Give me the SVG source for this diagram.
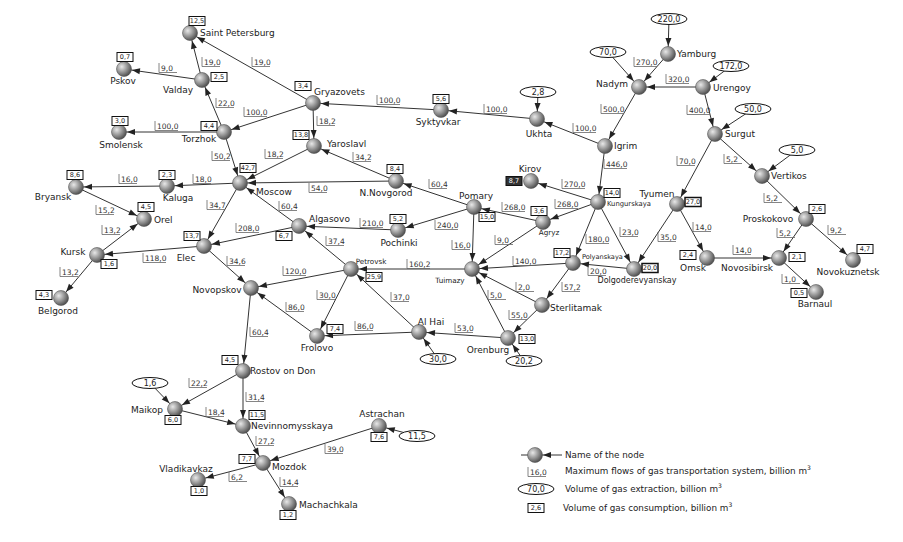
<svg xmlns="http://www.w3.org/2000/svg" xmlns:xlink="http://www.w3.org/1999/xlink" width="903" height="542" viewBox="0 0 903 542">
<style>
text{font-family:"DejaVu Sans","Liberation Sans",sans-serif;fill:#222}
.n{font-size:9px}
.s{font-size:7.2px}
.m{text-anchor:middle}
.e{stroke:#333;stroke-width:1;fill:none}
.fl text{font-size:7.5px;fill:#333}
.bx rect{fill:#fff;stroke:#111;stroke-width:1}
.bx text{font-size:6.5px;text-anchor:middle}
.ex ellipse{fill:#fff;stroke:#111;stroke-width:1}
.ex text{font-size:8px;text-anchor:middle}
.nd{fill:url(#g);stroke:#555;stroke-width:0.6}
.lg{font-size:8.8px}
</style>
<defs>
<radialGradient id="g" cx="35%" cy="35%" r="70%">
<stop offset="0" stop-color="#e8e8e8"/>
<stop offset="0.6" stop-color="#8a8a8a"/>
<stop offset="1" stop-color="#4a4a4a"/>
</radialGradient>
<marker id="a" markerUnits="userSpaceOnUse" markerWidth="9" markerHeight="6" refX="16" refY="3" orient="auto" overflow="visible">
<path d="M0,0L8,3L0,6z" fill="#222"/>
</marker>
<path id="u4" d="M0,-5V4.5H18" fill="none" stroke="#666" stroke-width="0.8"/>
<path id="u5" d="M0,-5V4.5H23" fill="none" stroke="#666" stroke-width="0.8"/>
</defs>
<rect width="903" height="542" fill="#fff"/>

<g id="connectors" class="e" marker-end="url(#a)">
<line x1="202" y1="80" x2="190" y2="33"/>
<line x1="313" y1="103" x2="190" y2="33"/>
<line x1="202" y1="80" x2="124" y2="69"/>
<line x1="224" y1="132" x2="202" y2="80"/>
<line x1="313" y1="103" x2="224" y2="132"/>
<line x1="224" y1="132" x2="119" y2="132"/>
<line x1="224" y1="132" x2="240" y2="183"/>
<line x1="313" y1="103" x2="314" y2="146"/>
<line x1="314" y1="146" x2="240" y2="183"/>
<line x1="396" y1="181" x2="314" y2="146"/>
<line x1="396" y1="181" x2="240" y2="183"/>
<line x1="441" y1="110" x2="313" y2="103"/>
<line x1="537" y1="119" x2="441" y2="110"/>
<line x1="605" y1="146" x2="537" y2="119"/>
<line x1="240" y1="183" x2="167" y2="186"/>
<line x1="167" y1="186" x2="76" y2="187"/>
<line x1="76" y1="187" x2="144" y2="219"/>
<line x1="97" y1="255" x2="144" y2="219"/>
<line x1="97" y1="255" x2="61" y2="298"/>
<line x1="204" y1="246" x2="97" y2="255"/>
<line x1="240" y1="183" x2="204" y2="246"/>
<line x1="299" y1="226" x2="240" y2="183"/>
<line x1="299" y1="226" x2="204" y2="246"/>
<line x1="398" y1="230" x2="299" y2="226"/>
<line x1="351" y1="269" x2="299" y2="226"/>
<line x1="204" y1="246" x2="251" y2="288"/>
<line x1="351" y1="269" x2="251" y2="288"/>
<line x1="317" y1="336" x2="251" y2="288"/>
<line x1="251" y1="288" x2="243" y2="371"/>
<line x1="351" y1="269" x2="317" y2="336"/>
<line x1="419" y1="332" x2="317" y2="336"/>
<line x1="419" y1="332" x2="351" y2="269"/>
<line x1="472" y1="269" x2="351" y2="269"/>
<line x1="474" y1="207" x2="396" y2="181"/>
<line x1="474" y1="207" x2="398" y2="230"/>
<line x1="474" y1="207" x2="472" y2="269"/>
<line x1="543" y1="222" x2="474" y2="207"/>
<line x1="543" y1="222" x2="472" y2="269"/>
<line x1="598" y1="202" x2="543" y2="222"/>
<line x1="598" y1="202" x2="531" y2="181"/>
<line x1="605" y1="146" x2="598" y2="202"/>
<line x1="598" y1="202" x2="573" y2="263"/>
<line x1="598" y1="202" x2="634" y2="269"/>
<line x1="573" y1="263" x2="472" y2="269"/>
<line x1="634" y1="269" x2="573" y2="263"/>
<line x1="573" y1="263" x2="542" y2="305"/>
<line x1="542" y1="305" x2="472" y2="269"/>
<line x1="542" y1="305" x2="508" y2="338"/>
<line x1="508" y1="338" x2="472" y2="269"/>
<line x1="508" y1="338" x2="419" y2="332"/>
<line x1="677" y1="204" x2="634" y2="269"/>
<line x1="677" y1="204" x2="707" y2="258"/>
<line x1="707" y1="258" x2="779" y2="258"/>
<line x1="715" y1="134" x2="677" y2="204"/>
<line x1="715" y1="134" x2="762" y2="176"/>
<line x1="762" y1="176" x2="806" y2="219"/>
<line x1="806" y1="219" x2="779" y2="258"/>
<line x1="806" y1="219" x2="853" y2="260"/>
<line x1="779" y1="258" x2="816" y2="292"/>
<line x1="703" y1="87" x2="715" y2="134"/>
<line x1="703" y1="87" x2="639" y2="87"/>
<line x1="668" y1="54" x2="639" y2="87"/>
<line x1="639" y1="87" x2="605" y2="146"/>
<line x1="243" y1="371" x2="175" y2="409"/>
<line x1="243" y1="371" x2="243" y2="426"/>
<line x1="175" y1="409" x2="243" y2="426"/>
<line x1="243" y1="426" x2="263" y2="463"/>
<line x1="379" y1="426" x2="263" y2="463"/>
<line x1="263" y1="463" x2="198" y2="480"/>
<line x1="263" y1="463" x2="289" y2="504"/>
<line x1="669" y1="19" x2="668" y2="54"/>
<line x1="608" y1="52" x2="639" y2="87"/>
<line x1="731" y1="66" x2="703" y2="87"/>
<line x1="753" y1="109" x2="715" y2="134"/>
<line x1="797" y1="150" x2="762" y2="176"/>
<line x1="538" y1="92" x2="537" y2="119"/>
<line x1="438" y1="359" x2="419" y2="332"/>
<line x1="524" y1="361" x2="508" y2="338"/>
<line x1="150" y1="383" x2="175" y2="409"/>
<line x1="417" y1="436" x2="379" y2="426"/>
<line x1="562" y1="455" x2="535" y2="455"/>
<line x1="521" y1="455" x2="528" y2="455" marker-end="none"/>
</g>

<g id="flows" class="fl">
<g transform="translate(202,62)"><use xlink:href="#u4"/><text x="2" y="2.5">19,0</text></g>
<g transform="translate(252,62)"><use xlink:href="#u4"/><text x="2" y="2.5">19,0</text></g>
<g transform="translate(159,68)"><use xlink:href="#u4"/><text x="2" y="2.5">9,0</text></g>
<g transform="translate(216,103)"><use xlink:href="#u4"/><text x="2" y="2.5">22,0</text></g>
<g transform="translate(244,112)"><use xlink:href="#u5"/><text x="2" y="2.5">100,0</text></g>
<g transform="translate(155,126)"><use xlink:href="#u5"/><text x="2" y="2.5">100,0</text></g>
<g transform="translate(212,156)"><use xlink:href="#u4"/><text x="2" y="2.5">50,2</text></g>
<g transform="translate(265,154)"><use xlink:href="#u4"/><text x="2" y="2.5">18,2</text></g>
<g transform="translate(119,179)"><use xlink:href="#u4"/><text x="2" y="2.5">16,0</text></g>
<g transform="translate(193,179)"><use xlink:href="#u4"/><text x="2" y="2.5">18,0</text></g>
<g transform="translate(377,100)"><use xlink:href="#u5"/><text x="2" y="2.5">100,0</text></g>
<g transform="translate(484,109)"><use xlink:href="#u5"/><text x="2" y="2.5">100,0</text></g>
<g transform="translate(573,128)"><use xlink:href="#u5"/><text x="2" y="2.5">100,0</text></g>
<g transform="translate(317,121)"><use xlink:href="#u4"/><text x="2" y="2.5">18,2</text></g>
<g transform="translate(353,157)"><use xlink:href="#u4"/><text x="2" y="2.5">34,2</text></g>
<g transform="translate(429,184)"><use xlink:href="#u4"/><text x="2" y="2.5">60,4</text></g>
<g transform="translate(562,184)"><use xlink:href="#u5"/><text x="2" y="2.5">270,0</text></g>
<g transform="translate(309,188)"><use xlink:href="#u4"/><text x="2" y="2.5">54,0</text></g>
<g transform="translate(634,62)"><use xlink:href="#u5"/><text x="2" y="2.5">270,0</text></g>
<g transform="translate(666,79)"><use xlink:href="#u5"/><text x="2" y="2.5">320,0</text></g>
<g transform="translate(601,109)"><use xlink:href="#u5"/><text x="2" y="2.5">500,0</text></g>
<g transform="translate(687,110)"><use xlink:href="#u5"/><text x="2" y="2.5">400,0</text></g>
<g transform="translate(604,164)"><use xlink:href="#u5"/><text x="2" y="2.5">446,0</text></g>
<g transform="translate(677,161)"><use xlink:href="#u4"/><text x="2" y="2.5">70,0</text></g>
<g transform="translate(724,159)"><use xlink:href="#u4"/><text x="2" y="2.5">5,2</text></g>
<g transform="translate(96,210)"><use xlink:href="#u4"/><text x="2" y="2.5">15,2</text></g>
<g transform="translate(102,230)"><use xlink:href="#u4"/><text x="2" y="2.5">13,2</text></g>
<g transform="translate(60,272)"><use xlink:href="#u4"/><text x="2" y="2.5">13,2</text></g>
<g transform="translate(143,258)"><use xlink:href="#u5"/><text x="2" y="2.5">118,0</text></g>
<g transform="translate(207,205)"><use xlink:href="#u4"/><text x="2" y="2.5">34,7</text></g>
<g transform="translate(236,228)"><use xlink:href="#u5"/><text x="2" y="2.5">208,0</text></g>
<g transform="translate(279,206)"><use xlink:href="#u4"/><text x="2" y="2.5">60,4</text></g>
<g transform="translate(227,261)"><use xlink:href="#u4"/><text x="2" y="2.5">34,6</text></g>
<g transform="translate(283,271)"><use xlink:href="#u5"/><text x="2" y="2.5">120,0</text></g>
<g transform="translate(286,307)"><use xlink:href="#u4"/><text x="2" y="2.5">86,0</text></g>
<g transform="translate(250,332)"><use xlink:href="#u4"/><text x="2" y="2.5">60,4</text></g>
<g transform="translate(360,223)"><use xlink:href="#u5"/><text x="2" y="2.5">210,0</text></g>
<g transform="translate(326,241)"><use xlink:href="#u4"/><text x="2" y="2.5">37,4</text></g>
<g transform="translate(435,225)"><use xlink:href="#u5"/><text x="2" y="2.5">240,0</text></g>
<g transform="translate(452,245)"><use xlink:href="#u4"/><text x="2" y="2.5">16,0</text></g>
<g transform="translate(502,207)"><use xlink:href="#u5"/><text x="2" y="2.5">268,0</text></g>
<g transform="translate(495,240)"><use xlink:href="#u4"/><text x="2" y="2.5">9,0</text></g>
<g transform="translate(555,204)"><use xlink:href="#u5"/><text x="2" y="2.5">268,0</text></g>
<g transform="translate(407,264)"><use xlink:href="#u5"/><text x="2" y="2.5">160,2</text></g>
<g transform="translate(513,261)"><use xlink:href="#u5"/><text x="2" y="2.5">140,0</text></g>
<g transform="translate(317,295)"><use xlink:href="#u4"/><text x="2" y="2.5">30,0</text></g>
<g transform="translate(391,297)"><use xlink:href="#u4"/><text x="2" y="2.5">37,0</text></g>
<g transform="translate(516,287)"><use xlink:href="#u4"/><text x="2" y="2.5">2,0</text></g>
<g transform="translate(562,287)"><use xlink:href="#u4"/><text x="2" y="2.5">57,2</text></g>
<g transform="translate(488,295)"><use xlink:href="#u4"/><text x="2" y="2.5">5,0</text></g>
<g transform="translate(509,315)"><use xlink:href="#u4"/><text x="2" y="2.5">55,0</text></g>
<g transform="translate(355,326)"><use xlink:href="#u4"/><text x="2" y="2.5">86,0</text></g>
<g transform="translate(455,328)"><use xlink:href="#u4"/><text x="2" y="2.5">53,0</text></g>
<g transform="translate(586,239)"><use xlink:href="#u5"/><text x="2" y="2.5">180,0</text></g>
<g transform="translate(620,232)"><use xlink:href="#u4"/><text x="2" y="2.5">23,0</text></g>
<g transform="translate(588,271)"><use xlink:href="#u4"/><text x="2" y="2.5">20,0</text></g>
<g transform="translate(658,237)"><use xlink:href="#u4"/><text x="2" y="2.5">35,0</text></g>
<g transform="translate(693,227)"><use xlink:href="#u4"/><text x="2" y="2.5">14,0</text></g>
<g transform="translate(733,250)"><use xlink:href="#u4"/><text x="2" y="2.5">14,0</text></g>
<g transform="translate(764,198)"><use xlink:href="#u4"/><text x="2" y="2.5">5,2</text></g>
<g transform="translate(777,233)"><use xlink:href="#u4"/><text x="2" y="2.5">5,2</text></g>
<g transform="translate(828,230)"><use xlink:href="#u4"/><text x="2" y="2.5">9,2</text></g>
<g transform="translate(782,279)"><use xlink:href="#u4"/><text x="2" y="2.5">1,0</text></g>
<g transform="translate(189,383)"><use xlink:href="#u4"/><text x="2" y="2.5">22,2</text></g>
<g transform="translate(246,397)"><use xlink:href="#u4"/><text x="2" y="2.5">31,4</text></g>
<g transform="translate(206,412)"><use xlink:href="#u4"/><text x="2" y="2.5">18,4</text></g>
<g transform="translate(256,441)"><use xlink:href="#u4"/><text x="2" y="2.5">27,2</text></g>
<g transform="translate(325,449)"><use xlink:href="#u4"/><text x="2" y="2.5">39,0</text></g>
<g transform="translate(229,477)"><use xlink:href="#u4"/><text x="2" y="2.5">6,2</text></g>
<g transform="translate(280,482)"><use xlink:href="#u4"/><text x="2" y="2.5">14,4</text></g>
</g>

<g id="saint-petersburg"><circle class="nd" cx="190" cy="33" r="7.5"/><text class="n" x="200" y="36">Saint Petersburg</text><g class="bx" transform="translate(197,21)"><rect x="-8" y="-4.5" width="16" height="9"/><text y="2.3">12,5</text></g></g>
<g id="pskov"><circle class="nd" cx="124" cy="69" r="7.5"/><text class="n m" x="123" y="84">Pskov</text><g class="bx" transform="translate(125,57)"><rect x="-8" y="-4.5" width="16" height="9"/><text y="2.3">0,7</text></g></g>
<g id="valday"><circle class="nd" cx="202" cy="80" r="7.5"/><text class="n m" x="178" y="93">Valday</text><g class="bx" transform="translate(219,77)"><rect x="-8" y="-4.5" width="16" height="9"/><text y="2.3">2,5</text></g></g>
<g id="gryazovets"><circle class="nd" cx="313" cy="103" r="7.5"/><text class="n" x="314" y="95">Gryazovets</text><g class="bx" transform="translate(303,86)"><rect x="-8" y="-4.5" width="16" height="9"/><text y="2.3">3,4</text></g></g>
<g id="torzhok"><circle class="nd" cx="224" cy="132" r="7.5"/><text class="n m" x="199" y="142">Torzhok</text><g class="bx" transform="translate(209,126)"><rect x="-8" y="-4.5" width="16" height="9"/><text y="2.3">4,4</text></g></g>
<g id="smolensk"><circle class="nd" cx="119" cy="132" r="7.5"/><text class="n m" x="121" y="148">Smolensk</text><g class="bx" transform="translate(120,121)"><rect x="-8" y="-4.5" width="16" height="9"/><text y="2.3">3,0</text></g></g>
<g id="yaroslavl"><circle class="nd" cx="314" cy="146" r="7.5"/><text class="n" x="327" y="147">Yaroslavl</text><g class="bx" transform="translate(301,135)"><rect x="-8" y="-4.5" width="16" height="9"/><text y="2.3">13,8</text></g></g>
<g id="moscow"><circle class="nd" cx="240" cy="183" r="7.5"/><text class="n" x="256" y="195">Moscow</text><g class="bx" transform="translate(248,168)"><rect x="-8" y="-4.5" width="16" height="9"/><text y="2.3">42,7</text></g></g>
<g id="kaluga"><circle class="nd" cx="167" cy="186" r="7.5"/><text class="n m" x="178" y="201">Kaluga</text><g class="bx" transform="translate(167,175)"><rect x="-8" y="-4.5" width="16" height="9"/><text y="2.3">2,3</text></g></g>
<g id="bryansk"><circle class="nd" cx="76" cy="187" r="7.5"/><text class="n m" x="53" y="200">Bryansk</text><g class="bx" transform="translate(75,175)"><rect x="-8" y="-4.5" width="16" height="9"/><text y="2.3">8,6</text></g></g>
<g id="orel"><circle class="nd" cx="144" cy="219" r="7.5"/><text class="n" x="154" y="223">Orel</text><g class="bx" transform="translate(146,207)"><rect x="-8" y="-4.5" width="16" height="9"/><text y="2.3">4,5</text></g></g>
<g id="kursk"><circle class="nd" cx="97" cy="255" r="7.5"/><text class="n m" x="73" y="255">Kursk</text><g class="bx" transform="translate(109,264)"><rect x="-8" y="-4.5" width="16" height="9"/><text y="2.3">1,6</text></g></g>
<g id="belgorod"><circle class="nd" cx="61" cy="298" r="7.5"/><text class="n m" x="58" y="314">Belgorod</text><g class="bx" transform="translate(44,295)"><rect x="-8" y="-4.5" width="16" height="9"/><text y="2.3">4,3</text></g></g>
<g id="elec"><circle class="nd" cx="204" cy="246" r="7.5"/><text class="n m" x="186" y="261">Elec</text><g class="bx" transform="translate(192,236)"><rect x="-8" y="-4.5" width="16" height="9"/><text y="2.3">13,7</text></g></g>
<g id="algasovo"><circle class="nd" cx="299" cy="226" r="7.5"/><text class="n" x="309" y="222">Algasovo</text><g class="bx" transform="translate(284,236)"><rect x="-8" y="-4.5" width="16" height="9"/><text y="2.3">6,7</text></g></g>
<g id="novopskov"><circle class="nd" cx="251" cy="288" r="7.5"/><text class="n m" x="217" y="293">Novopskov</text></g>
<g id="frolovo"><circle class="nd" cx="317" cy="336" r="7.5"/><text class="n m" x="317" y="351">Frolovo</text><g class="bx" transform="translate(335,329)"><rect x="-8" y="-4.5" width="16" height="9"/><text y="2.3">7,4</text></g></g>
<g id="petrovsk"><circle class="nd" cx="351" cy="269" r="7.5"/><text class="s m" x="371" y="264">Petrovsk</text><g class="bx" transform="translate(374,277)"><rect x="-8" y="-4.5" width="16" height="9"/><text y="2.3">25,9</text></g></g>
<g id="pochinki"><circle class="nd" cx="398" cy="230" r="7.5"/><text class="n m" x="399" y="246">Pochinki</text><g class="bx" transform="translate(398,219)"><rect x="-8" y="-4.5" width="16" height="9"/><text y="2.3">5,2</text></g></g>
<g id="n-novgorod"><circle class="nd" cx="396" cy="181" r="7.5"/><text class="n m" x="386" y="196">N.Novgorod</text><g class="bx" transform="translate(395,169)"><rect x="-8" y="-4.5" width="16" height="9"/><text y="2.3">8,4</text></g></g>
<g id="pomary"><circle class="nd" cx="474" cy="207" r="7.5"/><text class="n m" x="476" y="199">Pomary</text><g class="bx" transform="translate(487,217)"><rect x="-8" y="-4.5" width="16" height="9"/><text y="2.3">15,0</text></g></g>
<g id="agryz"><circle class="nd" cx="543" cy="222" r="7.5"/><text class="s m" x="549" y="235">Agryz</text><g class="bx" transform="translate(539,211)"><rect x="-8" y="-4.5" width="16" height="9"/><text y="2.3">3,6</text></g></g>
<g id="tuimazy"><circle class="nd" cx="472" cy="269" r="7.5"/><text class="s m" x="450" y="283">Tuimazy</text></g>
<g id="kungurskaya"><circle class="nd" cx="598" cy="202" r="7.5"/><text class="s" x="607" y="206" style="font-size:6.8px">Kungurskaya</text><g class="bx" transform="translate(612,193)"><rect x="-8" y="-4.5" width="16" height="9"/><text y="2.3">14,0</text></g></g>
<g id="kirov"><circle class="nd" cx="531" cy="181" r="7.5"/><text class="n m" x="530" y="172">Kirov</text><g class="bx" transform="translate(514,181)"><rect x="-8" y="-4.5" width="16" height="9" style="fill:#333"/><text y="2.3" style="fill:#fff">8,7</text></g></g>
<g id="polyanskaya"><circle class="nd" cx="573" cy="263" r="7.5"/><text class="s" x="582" y="259" style="font-size:6.6px">Polyanskaya</text><g class="bx" transform="translate(562,253)"><rect x="-8" y="-4.5" width="16" height="9"/><text y="2.3">17,2</text></g></g>
<g id="sterlitamak"><circle class="nd" cx="542" cy="305" r="7.5"/><text class="n" x="550" y="311">Sterlitamak</text></g>
<g id="orenburg"><circle class="nd" cx="508" cy="338" r="7.5"/><text class="n m" x="488" y="353">Orenburg</text><g class="bx" transform="translate(527,339)"><rect x="-8" y="-4.5" width="16" height="9"/><text y="2.3">13,0</text></g><g class="ex" transform="translate(524,361)"><ellipse rx="18" ry="5.5"/><text y="3">20,2</text></g></g>
<g id="al-hai"><circle class="nd" cx="419" cy="332" r="7.5"/><text class="n m" x="431" y="325">Al Hai</text><g class="ex" transform="translate(438,359)"><ellipse rx="18" ry="5.5"/><text y="3">30,0</text></g></g>
<g id="dolgoderevyanskay"><circle class="nd" cx="634" cy="269" r="7.5"/><text class="m" x="637" y="283" style="font-size:8px">Dolgoderevyanskay</text><g class="bx" transform="translate(650,268)"><rect x="-8" y="-4.5" width="16" height="9" style="stroke-width:1.5"/><text y="2.3">20,0</text></g></g>
<g id="tyumen"><circle class="nd" cx="677" cy="204" r="7.5"/><text class="n m" x="657" y="197">Tyumen</text><g class="bx" transform="translate(693,202)"><rect x="-8" y="-4.5" width="16" height="9" style="stroke-width:1.5"/><text y="2.3">27,0</text></g></g>
<g id="omsk"><circle class="nd" cx="707" cy="258" r="7.5"/><text class="n m" x="693" y="271">Omsk</text><g class="bx" transform="translate(688,255)"><rect x="-8" y="-4.5" width="16" height="9"/><text y="2.3">2,4</text></g></g>
<g id="novosibirsk"><circle class="nd" cx="779" cy="258" r="7.5"/><text class="n m" x="747" y="271">Novosibirsk</text><g class="bx" transform="translate(797,257)"><rect x="-8" y="-4.5" width="16" height="9"/><text y="2.3">2,1</text></g></g>
<g id="barnaul"><circle class="nd" cx="816" cy="292" r="7.5"/><text class="n m" x="815" y="307">Barnaul</text><g class="bx" transform="translate(799,293)"><rect x="-8" y="-4.5" width="16" height="9"/><text y="2.3">0,5</text></g></g>
<g id="proskokovo"><circle class="nd" cx="806" cy="219" r="7.5"/><text class="n m" x="768" y="222">Proskokovo</text><g class="bx" transform="translate(817,209)"><rect x="-8" y="-4.5" width="16" height="9"/><text y="2.3">2,6</text></g></g>
<g id="novokuznetsk"><circle class="nd" cx="853" cy="260" r="7.5"/><text class="n m" x="848" y="275">Novokuznetsk</text><g class="bx" transform="translate(865,249)"><rect x="-8" y="-4.5" width="16" height="9"/><text y="2.3">4,7</text></g></g>
<g id="vertikos"><circle class="nd" cx="762" cy="176" r="7.5"/><text class="n" x="771" y="179">Vertikos</text><g class="ex" transform="translate(797,150)"><ellipse rx="18" ry="5.5"/><text y="3">5,0</text></g></g>
<g id="surgut"><circle class="nd" cx="715" cy="134" r="7.5"/><text class="n" x="725" y="137">Surgut</text><g class="ex" transform="translate(753,109)"><ellipse rx="18" ry="5.5"/><text y="3">50,0</text></g></g>
<g id="urengoy"><circle class="nd" cx="703" cy="87" r="7.5"/><text class="n" x="713" y="91">Urengoy</text><g class="ex" transform="translate(731,66)"><ellipse rx="18" ry="5.5"/><text y="3">172,0</text></g></g>
<g id="yamburg"><circle class="nd" cx="668" cy="54" r="7.5"/><text class="n" x="677" y="57">Yamburg</text><g class="ex" transform="translate(669,19)"><ellipse rx="18" ry="5.5"/><text y="3">220,0</text></g></g>
<g id="nadym"><circle class="nd" cx="639" cy="87" r="7.5"/><text class="n m" x="612" y="87">Nadym</text><g class="ex" transform="translate(608,52)"><ellipse rx="18" ry="5.5"/><text y="3">70,0</text></g></g>
<g id="igrim"><circle class="nd" cx="605" cy="146" r="7.5"/><text class="n" x="614" y="149">Igrim</text></g>
<g id="ukhta"><circle class="nd" cx="537" cy="119" r="7.5"/><text class="n m" x="539" y="137">Ukhta</text><g class="ex" transform="translate(538,92)"><ellipse rx="18" ry="5.5"/><text y="3">2,8</text></g></g>
<g id="syktyvkar"><circle class="nd" cx="441" cy="110" r="7.5"/><text class="n m" x="438" y="125">Syktyvkar</text><g class="bx" transform="translate(441,99)"><rect x="-8" y="-4.5" width="16" height="9"/><text y="2.3">5,6</text></g></g>
<g id="rostov-on-don"><circle class="nd" cx="243" cy="371" r="7.5"/><text class="n" x="250" y="374">Rostov on Don</text><g class="bx" transform="translate(230,360)"><rect x="-8" y="-4.5" width="16" height="9"/><text y="2.3">4,5</text></g></g>
<g id="maikop"><circle class="nd" cx="175" cy="409" r="7.5"/><text class="n m" x="147" y="413">Maikop</text><g class="bx" transform="translate(173,420)"><rect x="-8" y="-4.5" width="16" height="9"/><text y="2.3">6,0</text></g><g class="ex" transform="translate(150,383)"><ellipse rx="18" ry="5.5"/><text y="3">1,6</text></g></g>
<g id="nevinnomysskaya"><circle class="nd" cx="243" cy="426" r="7.5"/><text class="n" x="251" y="429">Nevinnomysskaya</text><g class="bx" transform="translate(257,415)"><rect x="-8" y="-4.5" width="16" height="9"/><text y="2.3">11,5</text></g></g>
<g id="astrachan"><circle class="nd" cx="379" cy="426" r="7.5"/><text class="n m" x="382" y="417">Astrachan</text><g class="bx" transform="translate(379,437)"><rect x="-8" y="-4.5" width="16" height="9"/><text y="2.3">7,6</text></g><g class="ex" transform="translate(417,436)"><ellipse rx="18" ry="5.5"/><text y="3">11,5</text></g></g>
<g id="mozdok"><circle class="nd" cx="263" cy="463" r="7.5"/><text class="n" x="272" y="470">Mozdok</text><g class="bx" transform="translate(247,459)"><rect x="-8" y="-4.5" width="16" height="9"/><text y="2.3">7,7</text></g></g>
<g id="vladikavkaz"><circle class="nd" cx="198" cy="480" r="7.5"/><text class="n m" x="186" y="472">Vladikavkaz</text><g class="bx" transform="translate(199,491)"><rect x="-8" y="-4.5" width="16" height="9"/><text y="2.3">1,0</text></g></g>
<g id="machachkala"><circle class="nd" cx="289" cy="504" r="7.5"/><text class="n" x="299" y="508">Machachkala</text><g class="bx" transform="translate(288,515)"><rect x="-8" y="-4.5" width="16" height="9"/><text y="2.3">1,2</text></g></g>

<g id="legend">
<circle class="nd" cx="535" cy="455" r="7.5"/>
<text class="lg" x="565" y="458">Name of the node</text>
<g class="fl" transform="translate(528,472)"><use xlink:href="#u4"/><text x="2" y="2.5">16,0</text></g>
<text class="lg" x="565" y="474">Maximum flows of gas transportation system, billion m<tspan dy="-4" style="font-size:6px">3</tspan></text>
<g class="ex" transform="translate(536,489)"><ellipse rx="18" ry="5.5"/><text y="3">70,0</text></g>
<text class="lg" x="565" y="492">Volume of gas extraction, billion m<tspan dy="-4" style="font-size:6px">3</tspan></text>
<g class="bx" transform="translate(536,508)"><rect x="-8" y="-4.5" width="16" height="9"/><text y="2.3">2,6</text></g>
<text class="lg" x="563" y="511">Volume of gas consumption, billion m<tspan dy="-4" style="font-size:6px">3</tspan></text>
</g>
</svg>
